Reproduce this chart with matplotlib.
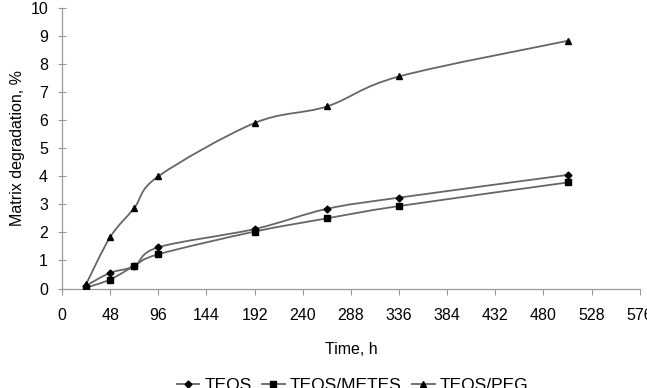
"""Matrix degradation vs time, three sol-gel formulations."""
import matplotlib

matplotlib.use("Agg")
import matplotlib.pyplot as plt  # noqa: E402
from matplotlib.lines import Line2D  # noqa: E402
from matplotlib.patches import PathPatch  # noqa: E402
from matplotlib.path import Path  # noqa: E402

plt.rcParams["font.family"] = ["Liberation Sans", "DejaVu Sans"]

time_h = [24, 48, 72, 96, 192, 264, 336, 504]
teos = [0.10, 0.56, 0.80, 1.47, 2.12, 2.84, 3.24, 4.05]
teos_metes = [0.03, 0.32, 0.80, 1.22, 2.03, 2.50, 2.94, 3.78]
teos_peg = [0.15, 1.83, 2.87, 4.00, 5.90, 6.49, 7.56, 8.83]

series = [
    ("TEOS", teos, "D", 3.5),
    ("TEOS/METES", teos_metes, "s", 4.0),
    ("TEOS/PEG", teos_peg, "^", 4.5),
]

x_ticks = list(range(0, 577, 48))
y_ticks = list(range(0, 11))

LINE = "#666666"
AXIS = "#999999"


def smooth_path(xs, ys):
    """Excel-like smoothed line: Catmull-Rom segments as cubic Beziers."""
    pts = list(zip(xs, ys))
    n = len(pts)
    verts = [pts[0]]
    codes = [Path.MOVETO]
    for i in range(n - 1):
        p0 = pts[max(i - 1, 0)]
        p1 = pts[i]
        p2 = pts[i + 1]
        p3 = pts[min(i + 2, n - 1)]
        c1 = (p1[0] + (p2[0] - p0[0]) / 6, p1[1] + (p2[1] - p0[1]) / 6)
        c2 = (p2[0] - (p3[0] - p1[0]) / 6, p2[1] - (p3[1] - p1[1]) / 6)
        verts += [c1, c2, p2]
        codes += [Path.CURVE4] * 3
    return Path(verts, codes)


fig = plt.figure(figsize=(6.47, 3.88), dpi=100)
ax = fig.add_axes([0.0958, 0.2564, 0.893, 0.7229])

handles = []
for name, vals, mk, ms in series:
    ax.add_patch(PathPatch(smooth_path(time_h, vals), facecolor="none",
                           edgecolor=LINE, lw=1.3, zorder=2))
    ax.plot(time_h, vals, ls="none", marker=mk, ms=ms, color="black", zorder=3)
    handles.append(Line2D([], [], color=LINE, lw=1.3, marker=mk, ms=ms,
                          markerfacecolor="black", markeredgecolor="black",
                          label=name))

ax.set_xlim(0, 576)
ax.set_ylim(0, 10)
ax.set_xticks(x_ticks)
ax.set_yticks(y_ticks)
ax.set_xlabel("Time, h", fontsize=11.5, labelpad=14)
ax.set_ylabel("Matrix degradation, %", fontsize=11.5, labelpad=4)

for side in ("top", "right"):
    ax.spines[side].set_visible(False)
for side in ("left", "bottom"):
    ax.spines[side].set_color(AXIS)
    ax.spines[side].set_linewidth(0.9)
ax.tick_params(axis="x", direction="out", length=4, color=AXIS,
               labelsize=11.5, pad=10)
ax.tick_params(axis="y", direction="inout", length=6, color=AXIS,
               labelsize=11.5, pad=7)

fig.legend(handles=handles, loc="upper center", bbox_to_anchor=(0.545, 0.066),
           ncol=3, frameon=False, fontsize=12.5, handlelength=1.3,
           handletextpad=0.3, columnspacing=0.6)

fig.savefig("out.png", dpi=100)
plt.close(fig)
